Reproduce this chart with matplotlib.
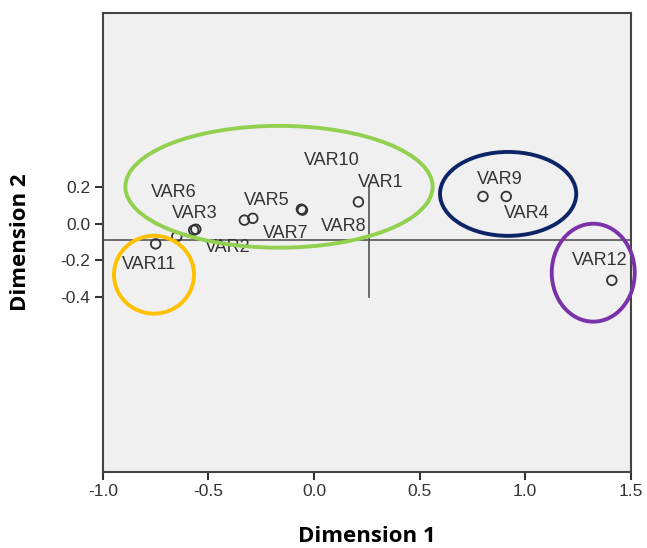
import matplotlib
matplotlib.use("Agg")
import matplotlib.pyplot as plt
from matplotlib.patches import Ellipse

# object points (dimension 1, dimension 2)
names = ["VAR1", "VAR2", "VAR3", "VAR4", "VAR5", "VAR6", "VAR7", "VAR8",
         "VAR9", "VAR10", "VAR11", "VAR12"]
dim1 = [0.21, -0.65, -0.56, 0.91, -0.33, -0.57, -0.29, -0.055, 0.80, -0.06, -0.75, 1.41]
dim2 = [0.12, -0.07, -0.03, 0.15, 0.02, -0.035, 0.03, 0.075, 0.15, 0.08, -0.11, -0.31]

# label offsets in points (where the text sits relative to its point)
offs = {"VAR1": (16, 14), "VAR2": (37, -8), "VAR3": (-1, 11), "VAR4": (15, -12),
        "VAR5": (16, 14), "VAR6": (-14, 27), "VAR7": (24, -11), "VAR8": (30, -12),
        "VAR9": (12, 12), "VAR10": (22, 35), "VAR11": (-5, -15), "VAR12": (-9, 14)}

xticks = [-1.0, -0.5, 0.0, 0.5, 1.0, 1.5]
yticks = [-0.4, -0.2, 0.0, 0.2]

fig = plt.figure(figsize=(6.47, 5.48), dpi=100)
ax = fig.add_axes([0.159, 0.139, 0.816, 0.837])
ax.set_facecolor("#f0f0f0")

ax.scatter(dim1, dim2, s=48, facecolors="none", edgecolors="#333333", linewidths=1.3, zorder=3)
for n, x, y in zip(names, dim1, dim2):
    dx, dy = offs[n]
    ax.annotate(n, (x, y), xytext=(dx, dy), textcoords="offset points",
                ha="center", va="center", fontsize=13, color="#333333",
                family="Liberation Sans")

# reference lines
ax.axhline(-0.09, color="#555555", lw=1.2, zorder=2)
ax.plot([0.26, 0.26], [0.2, -0.4], color="#555555", lw=1.2, zorder=2)

# highlighted groups
ax.add_patch(Ellipse((-0.166, 0.203), 1.455, 0.668, fill=False, ec="#92d050", lw=2.8, zorder=4))
ax.add_patch(Ellipse((0.919, 0.164), 0.645, 0.46, fill=False, ec="#0d2466", lw=2.8, zorder=4))
ax.add_patch(Ellipse((1.322, -0.268), 0.393, 0.537, fill=False, ec="#7a32a8", lw=2.8,
                     zorder=4, clip_on=False))
ax.add_patch(Ellipse((-0.758, -0.279), 0.379, 0.427, fill=False, ec="#ffc000", lw=2.8, zorder=4))

ax.set_xlim(-1.0, 1.5)
ax.set_ylim(-1.36, 1.155)
ax.set_xticks(xticks)
ax.set_xticklabels(["%.1f" % v for v in xticks])
ax.set_yticks(yticks)
ax.set_yticklabels(["%.1f" % v for v in yticks])
ax.tick_params(labelsize=12.5, colors="#333333", length=6, width=1.5, pad=3)
for lab in ax.get_xticklabels() + ax.get_yticklabels():
    lab.set_family("Liberation Sans")
for sp in ax.spines.values():
    sp.set_color("#444444")
    sp.set_linewidth(1.5)

ax.set_xlabel("Dimension 1", fontsize=16, fontweight="bold", family="Open Sans")
ax.set_ylabel("Dimension 2", fontsize=16, fontweight="bold", family="Open Sans")
ax.xaxis.set_label_coords(0.5, -0.118)
ax.yaxis.set_label_coords(-0.137, 0.50)

fig.savefig("out.png", dpi=100)
